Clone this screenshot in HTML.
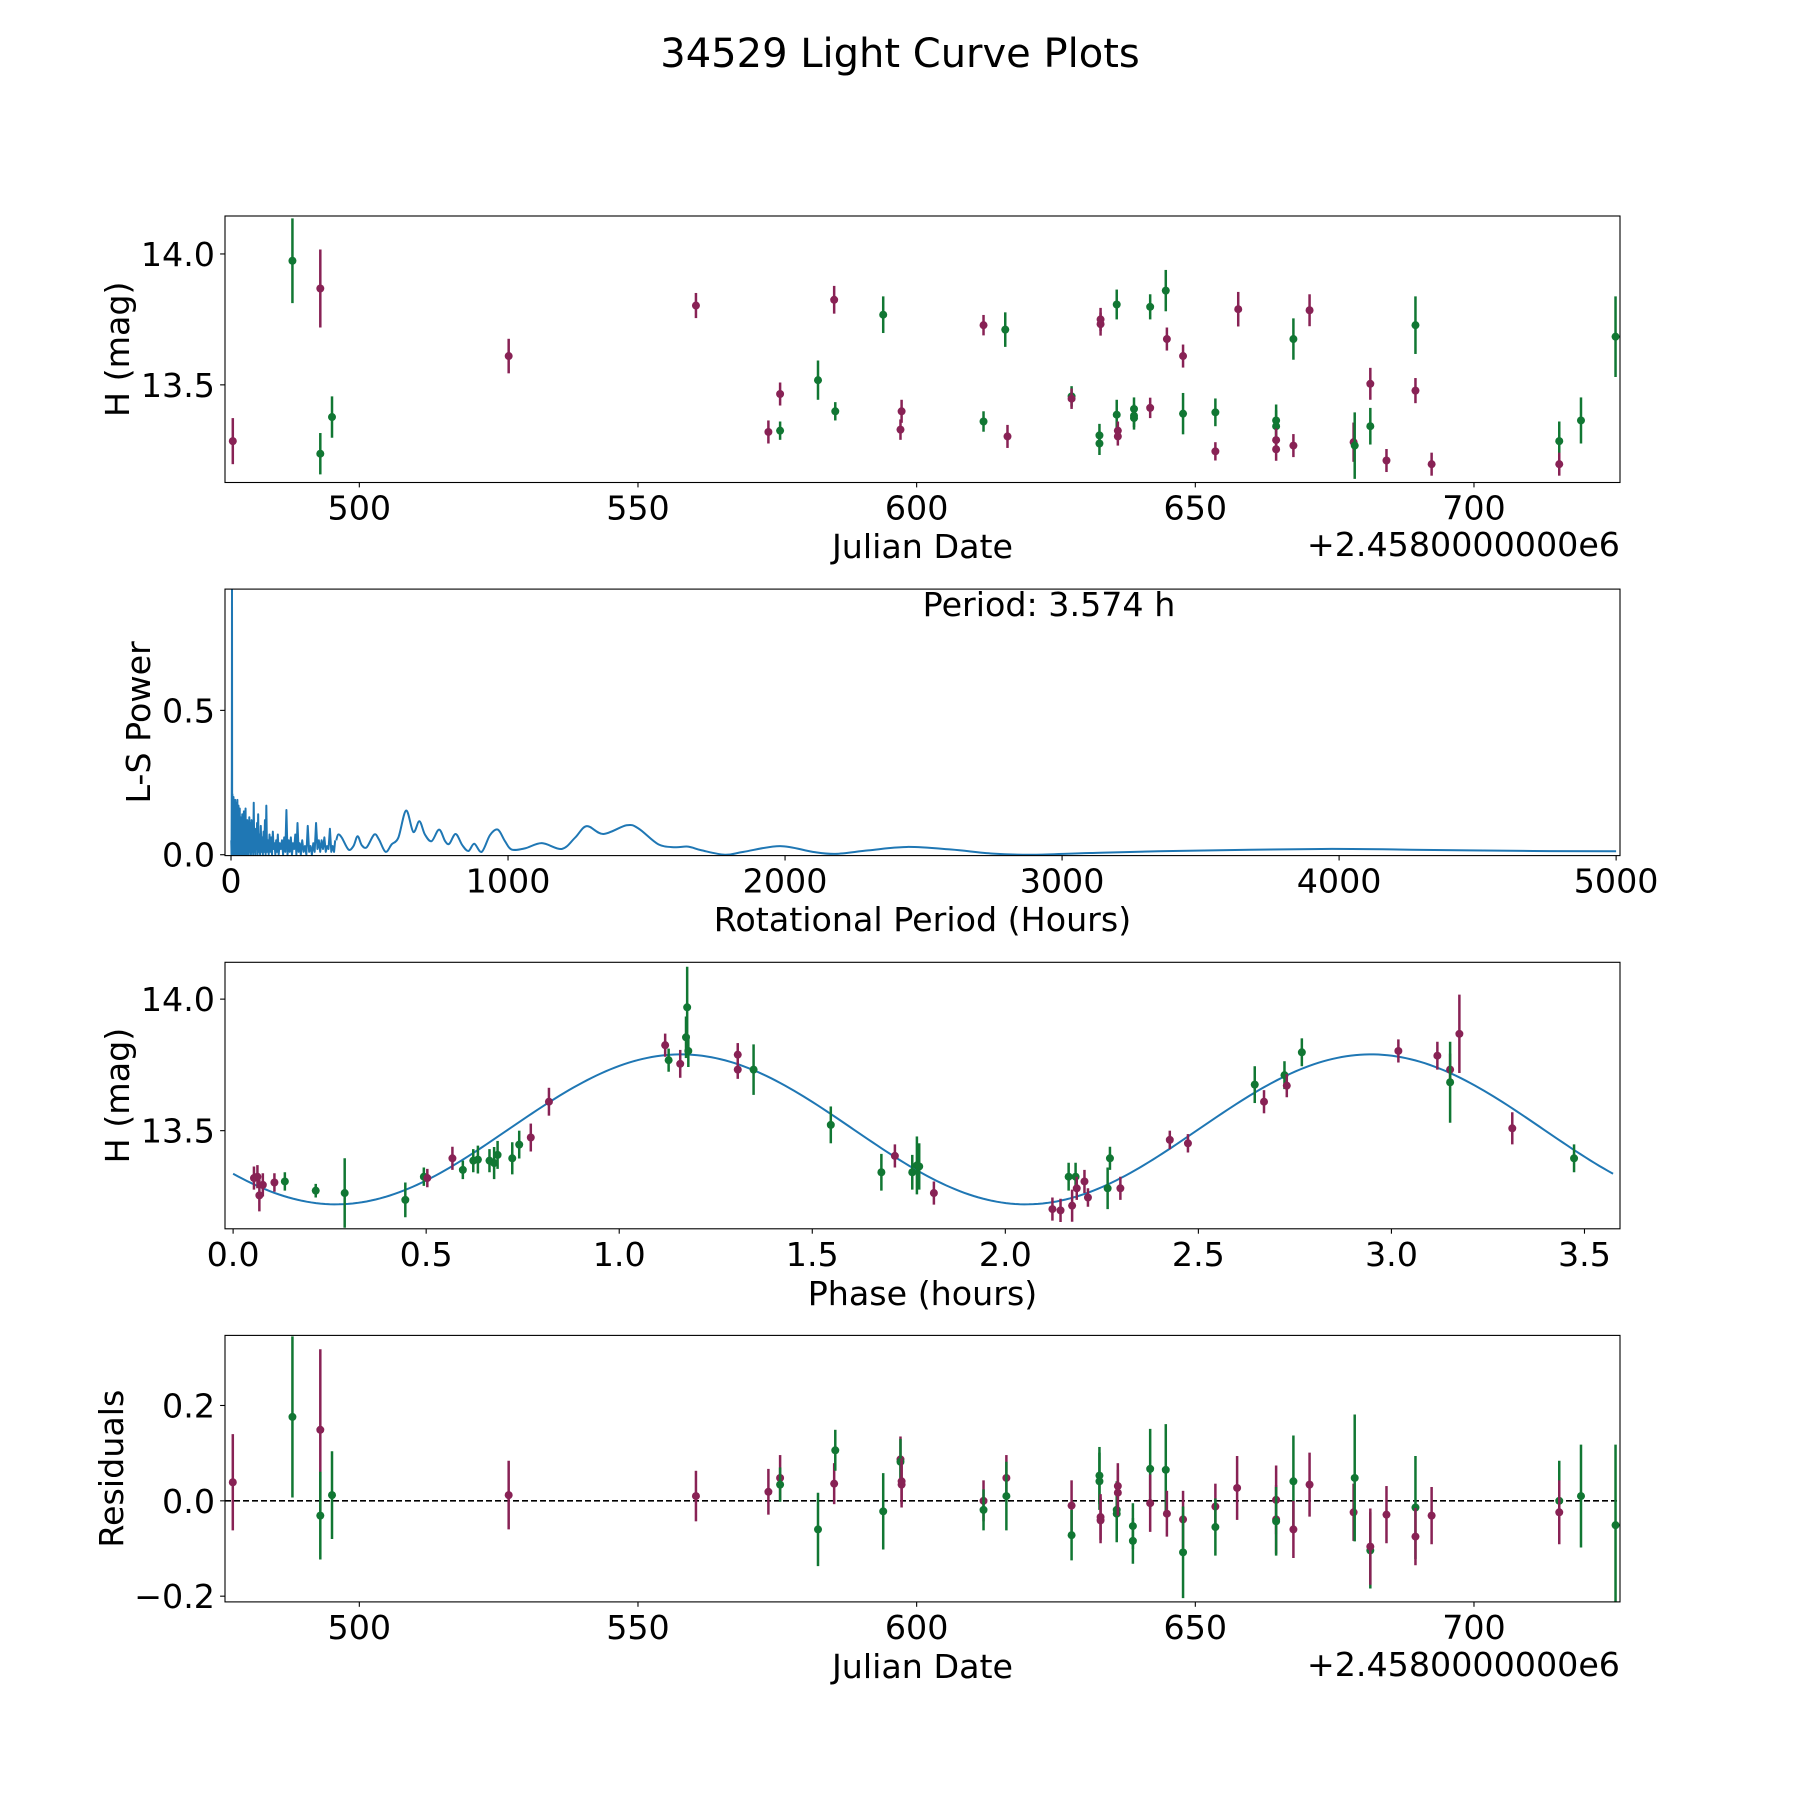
<!DOCTYPE html>
<html><head><meta charset="utf-8"><style>
html,body{margin:0;padding:0;background:#fff}
svg text{font-family:"DejaVu Sans","Liberation Sans",sans-serif;fill:#000}
</style></head><body>
<svg id="fig" xmlns="http://www.w3.org/2000/svg" width="1800" height="1800" viewBox="0 0 1800 1800">
<rect width="1800" height="1800" fill="#fff"/>
<text x="900" y="67" font-size="40" text-anchor="middle">34529 Light Curve Plots</text>
</svg>
<script>
// ---- Raw light curve data (JD offset, H mag, err, filter 0=maroon 1=green)
const lcJD=[477.3,488.0,493.0,493.0,495.1,526.8,560.4,573.4,575.5,575.5,582.3,585.2,585.4,594.0,597.1,597.3,612.0,612.0,615.9,616.3,627.8,627.8,632.8,632.8,633.0,633.0,635.9,635.9,636.1,636.1,639.0,639.0,639.0,641.9,641.9,644.7,644.9,647.8,647.8,653.6,653.6,657.7,664.5,664.5,664.5,664.5,667.6,667.6,670.5,678.4,678.6,681.4,681.4,684.3,689.5,689.5,692.4,715.3,715.3,719.2,725.4];
const lcH=[13.285,13.974,13.868,13.237,13.377,13.610,13.803,13.320,13.465,13.325,13.518,13.825,13.399,13.768,13.329,13.399,13.728,13.360,13.711,13.303,13.456,13.447,13.307,13.276,13.750,13.732,13.807,13.386,13.325,13.303,13.408,13.382,13.373,13.798,13.412,13.860,13.675,13.610,13.390,13.395,13.246,13.789,13.364,13.342,13.289,13.254,13.675,13.268,13.785,13.281,13.268,13.342,13.504,13.211,13.728,13.478,13.197,13.285,13.197,13.364,13.684];
const lcErr=[.088,.162,.149,.079,.079,.066,.048,.044,.044,.035,.075,.053,.035,.070,.039,.044,.039,.039,.066,.044,.039,.039,.044,.044,.044,.044,.057,.057,.035,.035,.044,.044,.044,.048,.039,.079,.044,.044,.079,.053,.035,.066,.061,.061,.044,.044,.079,.044,.061,.075,.127,.070,.061,.044,.110,.048,.044,.075,.044,.088,.154];
const lcF=[0,1,0,1,1,0,0,0,0,1,1,0,1,1,0,0,0,1,1,0,1,0,1,1,0,0,1,1,0,0,1,1,1,1,0,1,0,0,1,1,0,0,1,1,0,0,1,0,0,0,1,1,0,0,1,0,0,1,0,1,1];
// ---- Periodogram
const pgPeriod=[1,2,3.0,3.574,4.2,5,6,7,8,9,10,11,12,13,14,15,16,17,18,19,20,21,22,23,24,25,26,27,28,29,30,31.5,33,34.5,36,37.5,39,40.5,42,43.5,45,46.5,48,49.5,51,52.5,54,55.5,57,58.5,60,62,64,66,68,70,72,74,76,78,80,82,84,86,88,90,92,94,96,98,100,102.5,105,107.5,110,112.5,115,117.5,120,122.5,125,127.5,130,133,136,139,142,145,148,151,154,157,160,163,166,169,172,176,180,184,188,192,196,200,204,208,212,216,220,224,228,232,236,240,244,248,252,257,262,267,272,277,282,287,292,297,302,307,312,317,322,327,332,337,342,347,352,357,362,367,372,376,380];
const pgPower=[0.05,0.0,0.3,0.95,0.02,0.21,0.01,0.19,0.0,0.2,0.01,0.17,0.0,0.15,0.02,0.19,0.0,0.16,0.01,0.18,0.0,0.14,0.02,0.19,0.0,0.13,0.01,0.17,0.0,0.12,0.01,0.16,0.0,0.13,0.02,0.11,0.0,0.14,0.01,0.12,0.0,0.15,0.01,0.10,0.0,0.16,0.01,0.09,0.0,0.12,0.02,0.10,0.0,0.13,0.01,0.11,0.0,0.12,0.01,0.09,0.0,0.18,0.01,0.08,0.0,0.09,0.02,0.11,0.0,0.14,0.01,0.07,0.0,0.10,0.01,0.06,0.0,0.08,0.01,0.12,0.0,0.17,0.01,0.05,0.0,0.07,0.01,0.06,0.0,0.08,0.02,0.04,0.0,0.05,0.01,0.07,0.0,0.04,0.02,0.05,0.0,0.06,0.01,0.155,0.0,0.05,0.01,0.06,0.0,0.04,0.02,0.07,0.0,0.11,0.01,0.04,0.0,0.05,0.01,0.03,0.0,0.1,0.01,0.03,0.0,0.04,0.01,0.11,0.02,0.05,0.01,0.05,0.02,0.06,0.01,0.03,0.02,0.09,0.01,0.03,0.01,0.05];
const pgSmoothPeriod=[380,387,400,424,442,457,472,490,517,534,558,580,604,632,658,680,700,724,751,773,788,811,835,857,878,905,935,963,989,1013,1061,1122,1194,1242,1284,1344,1428,1471,1543,1603,1650,1700,1783,1850,1982,2100,2182,2300,2440,2600,2750,2897,3100,3400,3936,4300,4700,5000];
const pgSmoothPower=[0.05,0.070,0.059,0.018,0.030,0.064,0.033,0.026,0.070,0.053,0.010,0.036,0.059,0.153,0.079,0.116,0.070,0.047,0.087,0.047,0.038,0.072,0.033,0.013,0.038,0.010,0.068,0.087,0.047,0.018,0.022,0.040,0.020,0.059,0.099,0.072,0.102,0.091,0.036,0.026,0.028,0.015,0.0,0.01,0.03,0.01,0.003,0.015,0.027,0.018,0.004,0.0,0.006,0.013,0.02,0.017,0.013,0.012];
// ---- Phased data
const phX=[.054,.063,.068,.077,.107,.134,.214,.289,.446,.494,.503,.568,.595,.622,.634,.664,.676,.685,.723,.741,.771,.818,1.119,1.128,1.158,1.173,1.176,1.179,1.307,1.307,1.348,1.548,1.679,1.714,1.759,1.771,1.777,1.815,2.122,2.143,2.164,2.173,2.182,2.185,2.205,2.214,2.265,2.271,2.298,2.426,2.473,2.646,2.670,2.723,2.729,2.768,3.018,3.119,3.152,3.152,3.176,3.313,3.473];
const phH=[13.320,13.325,13.254,13.294,13.303,13.307,13.272,13.263,13.237,13.325,13.320,13.395,13.351,13.386,13.390,13.386,13.377,13.408,13.395,13.447,13.474,13.610,13.825,13.768,13.754,13.855,13.969,13.803,13.789,13.732,13.732,13.522,13.342,13.404,13.342,13.368,13.364,13.263,13.202,13.197,13.325,13.215,13.325,13.281,13.307,13.246,13.281,13.395,13.281,13.465,13.452,13.675,13.610,13.711,13.671,13.798,13.803,13.785,13.732,13.684,13.868,13.509,13.395];
const phErr=[.044,.044,.061,.044,.035,.035,.026,.132,.066,.035,.035,.044,.035,.044,.053,.044,.061,.053,.061,.053,.053,.053,.044,.044,.053,.079,.154,.061,.044,.035,.096,.070,.070,.044,.066,.110,.088,.044,.044,.044,.053,.061,.053,.044,.044,.035,.079,.044,.044,.035,.035,.070,.044,.053,.044,.053,.044,.053,.061,.154,.149,.061,.053];
const phF=[0,0,0,0,0,1,1,1,1,1,0,0,1,1,1,1,1,1,1,1,0,0,0,1,0,1,1,1,0,0,1,1,1,0,1,1,1,0,0,0,1,0,1,0,0,0,1,1,0,0,0,1,0,1,0,1,0,0,0,1,0,0,1];
const modelPeriod=3.574, modelMean=13.505, modelAmp=0.285, modelPeak=1.16;
// ---- Residuals
const rsJD=[477.3,488.0,493.0,493.0,495.1,526.8,560.4,573.4,575.5,575.5,582.3,585.2,585.4,594.0,597.1,597.1,597.3,597.3,612.0,612.0,616.1,616.1,627.8,627.8,632.8,632.8,633.0,633.0,635.9,635.9,636.1,636.1,638.8,638.8,641.9,641.9,644.7,644.9,647.8,647.8,653.6,653.6,657.5,664.5,664.5,664.5,667.6,667.6,670.5,678.4,678.6,681.4,681.4,684.3,689.5,689.5,692.4,715.3,715.3,719.2,725.4];
const rsVal=[.039,.176,.149,-.031,.012,.012,.010,.019,.048,.034,-.060,.036,.106,-.022,.087,.082,.041,.034,0,-.019,.048,.010,-.010,-.072,.053,.041,-.034,-.041,-.027,-.019,.031,.017,-.053,-.084,.067,-.005,.065,-.027,-.039,-.108,-.012,-.055,.027,.002,-.039,-.043,.041,-.060,.034,-.024,.048,-.104,-.096,-.029,-.014,-.075,-.031,0,-.024,.010,-.051];
const rsErr=[.101,.169,.169,.092,.092,.072,.053,.048,.048,.036,.077,.043,.043,.080,.048,.048,.048,.048,.043,.043,.048,.072,.053,.053,.060,.060,.048,.048,.060,.060,.048,.048,.048,.048,.084,.060,.096,.048,.060,.096,.048,.060,.067,.072,.072,.072,.096,.060,.067,.060,.133,.080,.080,.060,.108,.060,.060,.084,.067,.108,.169];
const rsF=[0,1,0,1,1,0,0,0,0,1,1,0,1,1,0,1,0,0,0,1,0,1,0,1,1,1,0,0,1,1,0,0,1,1,1,0,1,0,0,1,0,1,0,0,0,1,1,0,0,0,1,1,0,0,1,0,0,1,0,1,1];

const NS='http://www.w3.org/2000/svg';
const svg=document.getElementById('fig');
const COL=['#882255','#117733'];
const FS=33.3;
function mk(tag,attrs,parent){const e=document.createElementNS(NS,tag);for(const k in attrs)e.setAttribute(k,attrs[k]);(parent||svg).appendChild(e);return e;}
function fmt(v,d){let s=v.toFixed(d);if(v<0)s='\u2212'+s.slice(1);return s;}

function makeAxes(o){
  const L=225,R=1620,T=o.top,B=o.top+266.5;
  const g=mk('g',{});
  
  
  const sx=v=>L+(v-o.xmin)/(o.xmax-o.xmin)*(R-L);
  const sy=v=>B-(v-o.ymin)/(o.ymax-o.ymin)*(B-T);
  const cid='clip-'+o.name;
  const cp=mk('clipPath',{id:cid},g);mk('rect',{x:L,y:T,width:R-L,height:B-T},cp);
  const plot=mk('g',{'clip-path':'url(#'+cid+')'},g);
  o.xticks.forEach(v=>{const x=sx(v);
    mk('line',{x1:x,x2:x,y1:B,y2:B+4.9,stroke:'#000','stroke-width':1.1},g);
    const lb=mk('text',{x:x,y:B+37,'font-size':FS,'text-anchor':'middle'},g);lb.textContent=fmt(v,o.xd);
    
    });
  o.yticks.forEach(v=>{const y=sy(v);
    mk('line',{x1:L-4.9,x2:L,y1:y,y2:y,stroke:'#000','stroke-width':1.1},g);
    const lb=mk('text',{x:L-10,y:y+12,'font-size':FS,'text-anchor':'end'},g);lb.textContent=fmt(v,1);
    
    });
  const xl=mk('text',{x:(L+R)/2,y:o.xlabY,'font-size':FS,'text-anchor':'middle'},g);xl.textContent=o.xlabel;
  
  
  const yl=mk('text',{x:0,y:0,'font-size':FS,'text-anchor':'middle',transform:`translate(${o.ylabX},${(T+B)/2}) rotate(-90)`},g);yl.textContent=o.ylabel;
  
  
  if(o.offset){const ot=mk('text',{x:R,y:o.xlabY-2,'font-size':FS,'text-anchor':'end'},g);ot.textContent=o.offset;
    
    }
  mk('rect',{x:L,y:T,width:R-L,height:B-T,fill:'none',stroke:'#000','stroke-width':1.1},g);
  return {g,plot,sx,sy,L,R,T,B};
}
function errPoints(ax,xs,ys,es,fs,name){
  xs.forEach((xv,i)=>{const x=ax.sx(xv),c=COL[fs[i]];
    const l=mk('line',{x1:x,x2:x,y1:ax.sy(ys[i]-es[i]),y2:ax.sy(ys[i]+es[i]),stroke:c,'stroke-width':2.5},ax.plot);
    
    
    const p=mk('circle',{cx:x,cy:ax.sy(ys[i]),r:4,fill:c},ax.plot);
    
    });
}
function smoothPath(pts){
  let d='M'+pts[0][0]+','+pts[0][1];
  for(let i=0;i<pts.length-1;i++){
    const p0=pts[Math.max(0,i-1)],p1=pts[i],p2=pts[i+1],p3=pts[Math.min(pts.length-1,i+2)];
    const c1=[p1[0]+(p2[0]-p0[0])/6,p1[1]+(p2[1]-p0[1])/6];
    const c2=[p2[0]-(p3[0]-p1[0])/6,p2[1]-(p3[1]-p1[1])/6];
    d+=` C${c1[0]},${c1[1]} ${c2[0]},${c2[1]} ${p2[0]},${p2[1]}`;
  }
  return d;
}

// Axis 1
const a1=makeAxes({name:'raw-lightcurve-axes',top:216,xmin:475.9,xmax:726.2,ymin:13.127,ymax:14.145,xticks:[500,550,600,650,700],xd:0,yticks:[13.5,14.0],xlabel:'Julian Date',xlabY:558,ylabel:'H (mag)',ylabX:129,offset:'+2.4580000000e6'});
errPoints(a1,lcJD,lcH,lcErr,lcF,'lightcurve');

// Axis 2
const a2=makeAxes({name:'periodogram-axes',top:589.1,xmin:-21.7,xmax:5014,ymin:-0.003,ymax:0.92,xticks:[0,1000,2000,3000,4000,5000],xd:0,yticks:[0.0,0.5],xlabel:'Rotational Period (Hours)',xlabY:931,ylabel:'L-S Power',ylabX:150});
const pl=mk('polyline',{points:pgPeriod.map((p,i)=>a2.sx(p)+','+a2.sy(pgPower[i])).join(' '),fill:'none',stroke:'#1f77b4','stroke-width':2,'stroke-linejoin':'round'},a2.plot);


const sp=mk('path',{d:smoothPath(pgSmoothPeriod.map((p,i)=>[a2.sx(p),a2.sy(pgSmoothPower[i])])),fill:'none',stroke:'#1f77b4','stroke-width':2},a2.plot);


const pt=mk('text',{x:1049,y:616,'font-size':FS,'text-anchor':'middle'},a2.g);pt.textContent='Period: '+modelPeriod.toFixed(3)+' h';



// Axis 3
const a3=makeAxes({name:'phased-lightcurve-axes',top:962.3,xmin:-0.021,xmax:3.592,ymin:13.127,ymax:14.14,xticks:[0,0.5,1,1.5,2,2.5,3,3.5],xd:1,yticks:[13.5,14.0],xlabel:'Phase (hours)',xlabY:1305,ylabel:'H (mag)',ylabX:129});
const mpts=[];for(let k=0;k<=300;k++){const t=modelPeriod*k/300;mpts.push(a3.sx(t)+','+a3.sy(modelMean+modelAmp*Math.cos(4*Math.PI*(t-modelPeak)/modelPeriod)));}
const ml=mk('polyline',{points:mpts.join(' '),fill:'none',stroke:'#1f77b4','stroke-width':2},a3.plot);


errPoints(a3,phX,phH,phErr,phF,'phased');

// Axis 4
const a4=makeAxes({name:'residuals-axes',top:1335.4,xmin:475.9,xmax:726.2,ymin:-0.212,ymax:0.347,xticks:[500,550,600,650,700],xd:0,yticks:[-0.2,0.0,0.2],xlabel:'Julian Date',xlabY:1678,ylabel:'Residuals',ylabX:123,offset:'+2.4580000000e6'});
const zl=mk('line',{x1:a4.L,x2:a4.R,y1:a4.sy(0),y2:a4.sy(0),stroke:'#000','stroke-width':1.6,'stroke-dasharray':'6,3'},a4.plot);


errPoints(a4,rsJD,rsVal,rsErr,rsF,'residual');
</script>
</body></html>
